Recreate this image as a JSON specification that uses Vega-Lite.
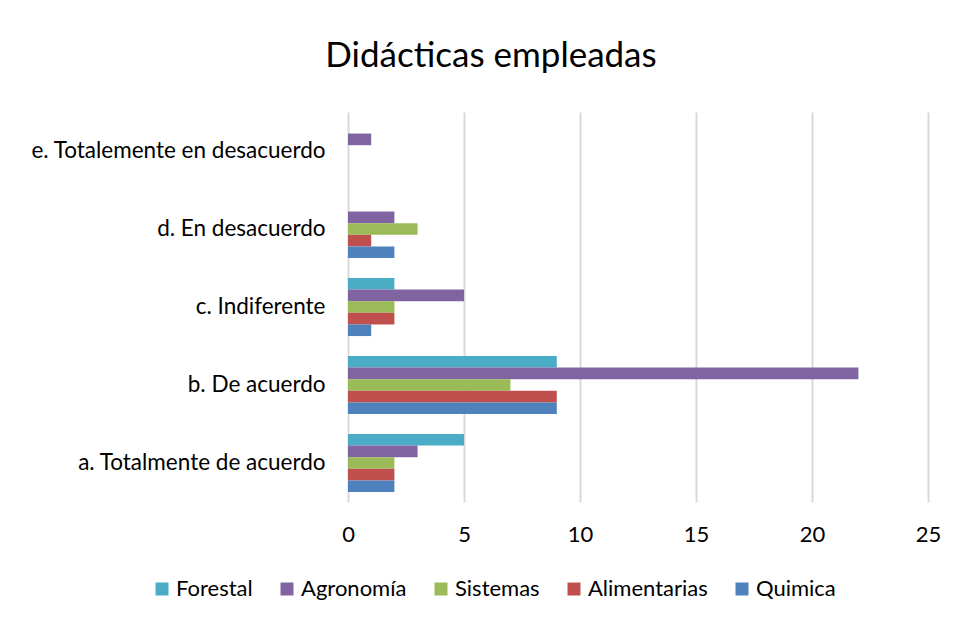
{
  "$schema": "https://vega.github.io/schema/vega-lite/v6.json",
  "autosize": "none",
  "width": 580,
  "height": 390,
  "padding": {"left": 348, "top": 112, "right": 30, "bottom": 119},
  "background": "white",
  "title": {
    "text": "Didácticas empleadas",
    "anchor": "middle",
    "dx": -147,
    "offset": 38,
    "fontSize": 35,
    "font": "Lato",
    "fontWeight": "normal",
    "color": "#000000"
  },
  "data": {
    "values": [
      {"cat": "e. Totalemente en desacuerdo", "serie": "Forestal", "v": 0},
      {"cat": "e. Totalemente en desacuerdo", "serie": "Agronomía", "v": 1},
      {"cat": "e. Totalemente en desacuerdo", "serie": "Sistemas", "v": 0},
      {"cat": "e. Totalemente en desacuerdo", "serie": "Alimentarias", "v": 0},
      {"cat": "e. Totalemente en desacuerdo", "serie": "Quimica", "v": 0},
      {"cat": "d. En desacuerdo", "serie": "Forestal", "v": 0},
      {"cat": "d. En desacuerdo", "serie": "Agronomía", "v": 2},
      {"cat": "d. En desacuerdo", "serie": "Sistemas", "v": 3},
      {"cat": "d. En desacuerdo", "serie": "Alimentarias", "v": 1},
      {"cat": "d. En desacuerdo", "serie": "Quimica", "v": 2},
      {"cat": "c. Indiferente", "serie": "Forestal", "v": 2},
      {"cat": "c. Indiferente", "serie": "Agronomía", "v": 5},
      {"cat": "c. Indiferente", "serie": "Sistemas", "v": 2},
      {"cat": "c. Indiferente", "serie": "Alimentarias", "v": 2},
      {"cat": "c. Indiferente", "serie": "Quimica", "v": 1},
      {"cat": "b. De acuerdo", "serie": "Forestal", "v": 9},
      {"cat": "b. De acuerdo", "serie": "Agronomía", "v": 22},
      {"cat": "b. De acuerdo", "serie": "Sistemas", "v": 7},
      {"cat": "b. De acuerdo", "serie": "Alimentarias", "v": 9},
      {"cat": "b. De acuerdo", "serie": "Quimica", "v": 9},
      {"cat": "a. Totalmente de acuerdo", "serie": "Forestal", "v": 5},
      {"cat": "a. Totalmente de acuerdo", "serie": "Agronomía", "v": 3},
      {"cat": "a. Totalmente de acuerdo", "serie": "Sistemas", "v": 2},
      {"cat": "a. Totalmente de acuerdo", "serie": "Alimentarias", "v": 2},
      {"cat": "a. Totalmente de acuerdo", "serie": "Quimica", "v": 2}
    ]
  },
  "mark": {"type": "bar"},
  "encoding": {
    "y": {
      "field": "cat",
      "type": "nominal",
      "sort": "descending",
      "title": null,
      "scale": {"paddingInner": 0.255, "paddingOuter": 0.1275},
      "axis": {
        "domain": false,
        "ticks": false,
        "labelPadding": 23,
        "labelFontSize": 22.5,
        "labelFont": "Lato",
        "labelColor": "#000000",
        "labelLimit": 400
      }
    },
    "yOffset": {
      "field": "serie",
      "type": "nominal",
      "sort": ["Forestal", "Agronomía", "Sistemas", "Alimentarias", "Quimica"],
      "scale": {"paddingInner": 0, "paddingOuter": 0}
    },
    "x": {
      "field": "v",
      "type": "quantitative",
      "title": null,
      "scale": {"domain": [0, 25]},
      "axis": {
        "values": [0, 5, 10, 15, 20, 25],
        "domain": false,
        "ticks": false,
        "grid": true,
        "gridColor": "#d9d9d9",
        "gridWidth": 2,
        "labelFlush": false,
        "labelPadding": 22,
        "labelFontSize": 22,
        "labelFont": "Lato",
        "labelColor": "#000000"
      }
    },
    "color": {
      "field": "serie",
      "type": "nominal",
      "sort": ["Forestal", "Agronomía", "Sistemas", "Alimentarias", "Quimica"],
      "scale": {
        "domain": ["Forestal", "Agronomía", "Sistemas", "Alimentarias", "Quimica"],
        "range": ["#4BACC6", "#8064A2", "#9BBB59", "#C0504D", "#4F81BD"]
      },
      "legend": {
        "title": null,
        "orient": "none",
        "direction": "horizontal",
        "legendX": -197,
        "legendY": 466,
        "symbolType": "square",
        "symbolSize": 169,
        "symbolStrokeWidth": 0,
        "symbolOpacity": 1,
        "labelFontSize": 22,
        "labelFont": "Lato",
        "labelColor": "#000000",
        "columnPadding": 23,
        "labelOffset": 3
      }
    }
  },
  "config": {
    "view": {"stroke": null}
  }
}
